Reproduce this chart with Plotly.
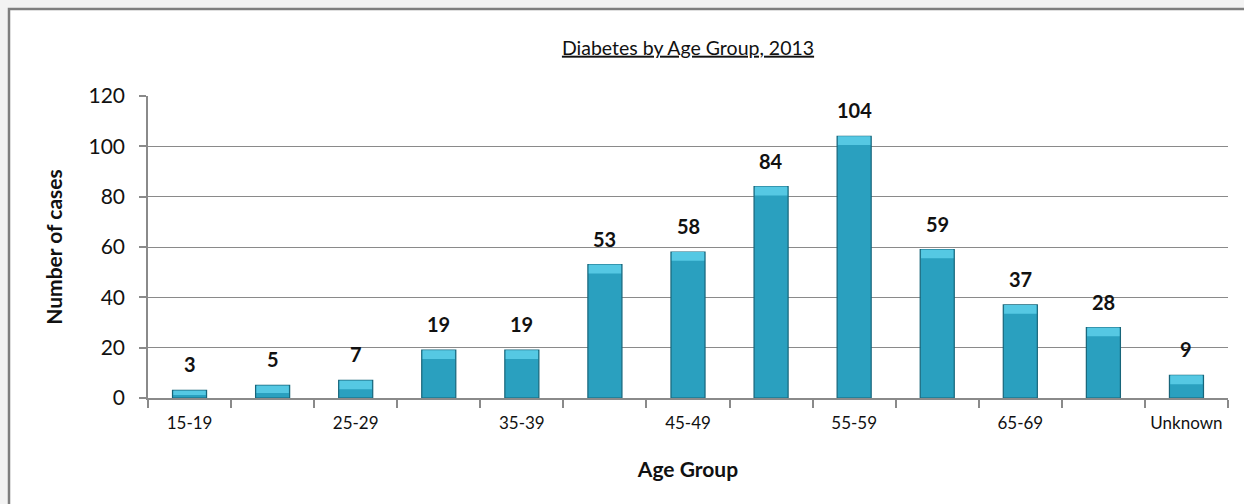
import plotly.graph_objects as go

# Diabetes cases by age group, 2013
age_groups = ["15-19", "20-24", "25-29", "30-34", "35-39", "40-44", "45-49",
              "50-54", "55-59", "60-64", "65-69", "70+", "Unknown"]
cases = [3, 5, 7, 19, 19, 53, 58, 84, 104, 59, 37, 28, 9]
# every second category carries a visible label
tick_text = [g if i % 2 == 0 else "" for i, g in enumerate(age_groups)]
y_ticks = [0, 20, 40, 60, 80, 100, 120]

FONT = "Lato"
GRID = "#8a8a8a"
BAR_W = 0.41

fig = go.Figure()
fig.add_trace(go.Bar(
    x=age_groups,
    y=cases,
    marker=dict(color="#2aa0bf", line=dict(color="#17657a", width=1.2)),
    width=BAR_W,
    hoverinfo="x+y",
))

# lighter bevelled top of each bar
cap = [min(3.5, v * 0.6) for v in cases]
fig.add_trace(go.Bar(
    x=age_groups,
    y=cap,
    base=[v - c for v, c in zip(cases, cap)],
    marker=dict(color="#55c8e3", line=dict(width=0)),
    width=BAR_W - 0.02,
    hoverinfo="skip",
))

# value labels floating above each bar
for g, v in zip(age_groups, cases):
    fig.add_annotation(x=g, y=v, text=f"<b>{v}</b>", showarrow=False,
                       yshift=26, font=dict(family=FONT, size=20, color="#111111"))

# white chart panel with grey frame
fig.add_shape(type="rect", xref="paper", yref="paper",
              x0=-0.1287, x1=1.06, y0=-0.40, y1=1.288,
              fillcolor="white", line=dict(color="#7f7f7f", width=2.5),
              layer="below")

fig.update_layout(
    width=1244, height=504,
    margin=dict(l=148, r=16, t=96, b=106, autoexpand=False),
    paper_bgcolor="#f3f3f3",
    plot_bgcolor="rgba(0,0,0,0)",
    showlegend=False,
    barmode="overlay",
    title=dict(text="<u>Diabetes by Age Group, 2013</u>", x=0.5, xref="paper",
               xanchor="center", y=0.905, yanchor="middle",
               font=dict(family=FONT, size=19.5, color="#111111")),
    xaxis=dict(
        type="category", automargin=False,
        tickmode="array", tickvals=age_groups, ticktext=tick_text,
        tickangle=0,
        tickson="boundaries", ticks="outside", ticklen=8, tickcolor=GRID,
        tickwidth=1.5,
        showline=True, linecolor=GRID, linewidth=2,
        showgrid=False,
        tickfont=dict(family=FONT, size=17, color="#111111"),
        ticklabelstandoff=9,
        title=dict(text="<b>Age Group</b>", standoff=30,
                   font=dict(family=FONT, size=21, color="#111111")),
    ),
    yaxis=dict(
        range=[0, 120], tickmode="array", tickvals=y_ticks, automargin=False,
        ticks="outside", ticklen=7, tickcolor=GRID, tickwidth=1.5,
        showline=True, linecolor=GRID, linewidth=1.5,
        showgrid=True, gridcolor=GRID, gridwidth=1.2,
        zeroline=False,
        tickfont=dict(family=FONT, size=21, color="#111111"),
        ticklabelstandoff=10,
        title=dict(text="<b>Number of cases</b>", standoff=20,
                   font=dict(family=FONT, size=21, color="#111111")),
    ),
)

fig.write_html("out.html")
